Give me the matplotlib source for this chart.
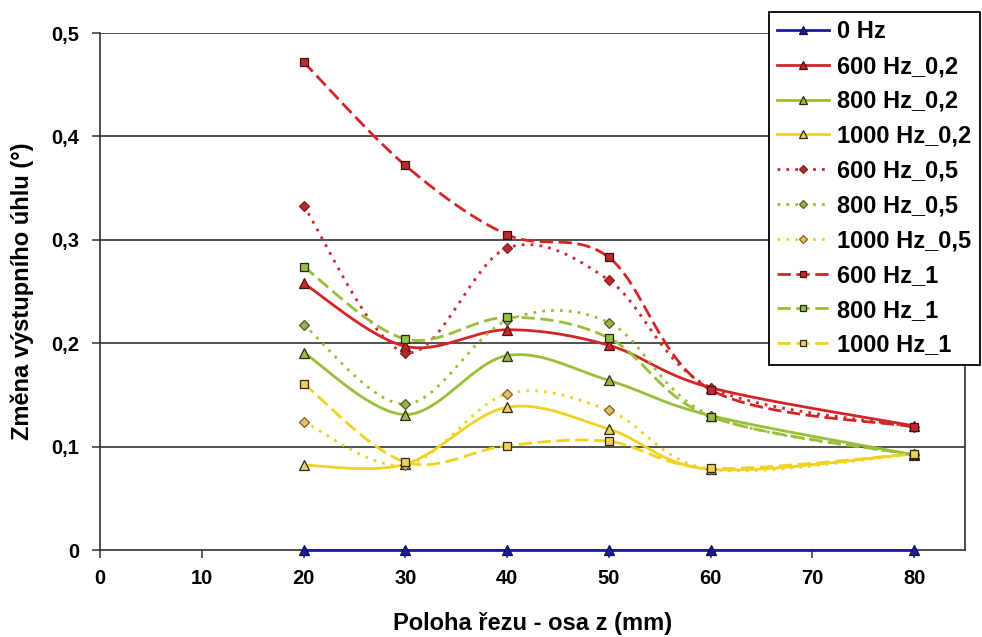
import numpy as np
import matplotlib
matplotlib.use("Agg")
import matplotlib.pyplot as plt
from matplotlib.lines import Line2D

# Cut positions along the z axis (mm)
positions = [20, 30, 40, 50, 60, 80]

# Change of output angle (deg) for each setting
hz_0 = [0.0, 0.0, 0.0, 0.0, 0.0, 0.0]
hz600_02 = [0.258, 0.197, 0.213, 0.198, 0.157, 0.120]
hz800_02 = [0.191, 0.131, 0.188, 0.164, 0.130, 0.092]
hz1000_02 = [0.082, 0.083, 0.138, 0.117, 0.078, 0.093]
hz600_05 = [0.333, 0.191, 0.292, 0.261, 0.157, 0.119]
hz800_05 = [0.218, 0.141, 0.222, 0.220, 0.130, 0.092]
hz1000_05 = [0.124, 0.082, 0.151, 0.135, 0.078, 0.093]
hz600_1 = [0.472, 0.372, 0.305, 0.283, 0.155, 0.119]
hz800_1 = [0.274, 0.204, 0.225, 0.205, 0.129, 0.092]
hz1000_1 = [0.161, 0.085, 0.101, 0.105, 0.079, 0.093]

series_names = ["0 Hz", "600 Hz_0,2", "800 Hz_0,2", "1000 Hz_0,2",
                "600 Hz_0,5", "800 Hz_0,5", "1000 Hz_0,5",
                "600 Hz_1", "800 Hz_1", "1000 Hz_1"]
series_values = [hz_0, hz600_02, hz800_02, hz1000_02,
                 hz600_05, hz800_05, hz1000_05,
                 hz600_1, hz800_1, hz1000_1]

x_ticks = [0, 10, 20, 30, 40, 50, 60, 70, 80]
y_ticks = [0, 0.1, 0.2, 0.3, 0.4, 0.5]
y_tick_labels = ["0", "0,1", "0,2", "0,3", "0,4", "0,5"]

# Styles
BLUE = "#1c1c9c"
RED = "#d42428"
GREEN = "#98bf38"
YELLOW = "#f0d223"

SOLID = "-"
DOT = (0, (1.0, 2.2))
DASH = (0, (4.8, 2.0))

styles = [
    dict(color=BLUE, ls=SOLID, marker="^", mfc=BLUE, mec="#101050"),
    dict(color=RED, ls=SOLID, marker="^", mfc="#c8282c", mec="#501010"),
    dict(color=GREEN, ls=SOLID, marker="^", mfc="#9cb848", mec="#263010"),
    dict(color=YELLOW, ls=SOLID, marker="^", mfc="#e8d070", mec="#302810"),
    dict(color=RED, ls=DOT, marker="D", mfc="#b82830", mec="#802020"),
    dict(color=GREEN, ls=DOT, marker="D", mfc="#98b050", mec="#506020"),
    dict(color=YELLOW, ls=DOT, marker="D", mfc="#e0c070", mec="#806020"),
    dict(color=RED, ls=DASH, marker="s", mfc="#c02830", mec="#401010"),
    dict(color=GREEN, ls=DASH, marker="s", mfc="#98c048", mec="#202810"),
    dict(color=YELLOW, ls=DASH, marker="s", mfc="#ecd060", mec="#302810"),
]
marker_sizes = {"^": 6.5, "D": 5.0, "s": 5.5}


def smooth_curve(xs, ys, n=40):
    """Piecewise cubic Bezier smoothing through the points (Catmull-Rom)."""
    pts = np.column_stack([xs, ys]).astype(float)
    m = len(pts)
    out = [pts[0]]
    t = np.linspace(0, 1, n)[1:]
    for i in range(m - 1):
        p0 = pts[i - 1] if i > 0 else pts[i]
        p1 = pts[i]
        p2 = pts[i + 1]
        p3 = pts[i + 2] if i + 2 < m else pts[i + 1]
        c1 = p1 + (p2 - p0) / 6.0
        c2 = p2 - (p3 - p1) / 6.0
        seg = ((1 - t) ** 3)[:, None] * p1 + (3 * (1 - t) ** 2 * t)[:, None] * c1 \
            + (3 * (1 - t) * t ** 2)[:, None] * c2 + (t ** 3)[:, None] * p2
        out.extend(seg)
    out = np.array(out)
    return out[:, 0], out[:, 1]


plt.rcParams["font.family"] = ["Liberation Sans", "DejaVu Sans"]
plt.rcParams["font.weight"] = "bold"

fig = plt.figure(figsize=(9.82, 6.37), dpi=100)
ax = fig.add_axes([100 / 982, 1 - 550 / 637, 865 / 982, 517 / 637])

for y in y_ticks[1:]:
    ax.axhline(y, color="#202020", lw=1.1, zorder=1)

handles = []
for name, vals, st in zip(series_names, series_values, styles):
    sx, sy = smooth_curve(positions, vals)
    lw = 2.0
    ax.plot(sx, sy, color=st["color"], ls=st["ls"], lw=lw, zorder=5,
            solid_capstyle="butt", dash_capstyle="butt", clip_on=False)
    ms = marker_sizes[st["marker"]]
    ax.plot(positions, vals, ls="none", marker=st["marker"], ms=ms,
            mfc=st["mfc"], mec=st["mec"], mew=0.9, zorder=6, clip_on=False)
    handles.append(Line2D([], [], color=st["color"], ls=st["ls"], lw=lw,
                          marker=st["marker"], ms=ms - 1, mfc=st["mfc"],
                          mec=st["mec"], mew=0.9, label=name))

ax.set_xlim(0, 85)
ax.set_ylim(0, 0.5)
ax.set_xticks(x_ticks)
ax.set_xticklabels([str(v) for v in x_ticks])
ax.set_yticks(y_ticks)
ax.set_yticklabels(y_tick_labels)
ax.tick_params(axis="both", direction="out", length=6, width=1.1,
               color="#303030", labelsize=14.5)
ax.tick_params(axis="x", pad=8)
ax.tick_params(axis="y", pad=9)
for lbl in ax.get_xticklabels() + ax.get_yticklabels():
    lbl.set_fontweight("bold")

for side in ["left", "bottom", "right"]:
    ax.spines[side].set_color("#303030")
    ax.spines[side].set_linewidth(1.2)
ax.spines["top"].set_visible(False)

ax.set_xlabel("Poloha řezu - osa z (mm)", fontsize=17, fontweight="bold",
              labelpad=17)
ax.set_ylabel("Změna výstupního úhlu (°)", fontsize=17, fontweight="bold",
              labelpad=12)

leg = fig.legend(handles=handles, loc="upper right",
                 bbox_to_anchor=(980 / 982, 1 - 12 / 637),
                 fontsize=17, frameon=True, fancybox=False, framealpha=1,
                 edgecolor="black", handlelength=2.2, handletextpad=0.35,
                 labelspacing=0.5, borderpad=0.35, borderaxespad=0)
leg.get_frame().set_linewidth(1.3)
for t in leg.get_texts():
    t.set_fontweight("bold")

fig.savefig("out.png", dpi=100, facecolor="white")
